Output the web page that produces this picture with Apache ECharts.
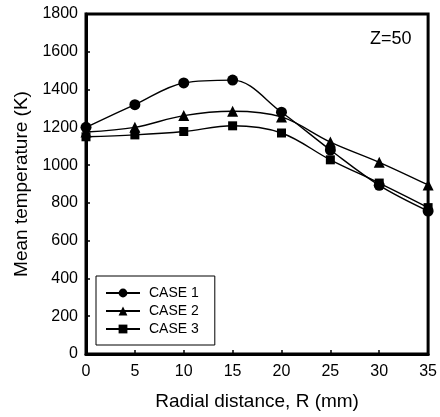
<!DOCTYPE html>
<html>
<head>
<meta charset="utf-8">
<script src="https://cdn.jsdelivr.net/npm/echarts@6/dist/echarts.min.js"></script>
<style>
  html, body { margin: 0; padding: 0; background: #fff; }
  #chart { width: 440px; height: 417px; }
</style>
</head>
<body>
<div id="chart"></div>
<script>
// radial positions (mm)
var radius = [0, 5, 10, 15, 20, 25, 30, 35];
// mean temperature (K)
var case1 = [1200, 1320, 1435, 1450, 1280, 1080, 893, 757];
var case2 = [1175, 1200, 1262, 1285, 1255, 1122, 1015, 895];
var case3 = [1150, 1160, 1178, 1208, 1170, 1028, 905, 775];

function pairs(ys) {
    return radius.map(function (x, i) { return [x, ys[i]]; });
}

var font = 'Liberation Sans, Arial, sans-serif';
var chart = echarts.init(document.getElementById('chart'));

var lineSeries = function (name, data, symbol, size) {
    return {
        name: name,
        type: 'line',
        data: pairs(data),
        smooth: 0.35,
        smoothConstraint: false,
        symbol: symbol,
        symbolSize: size,
        lineStyle: { color: '#000', width: 1.4 },
        itemStyle: { color: '#000' },
        z: 3
    };
};

chart.setOption({
    animation: false,
    textStyle: { fontFamily: font },
    grid: {
        left: 86, top: 14, right: 9, bottom: 63,
        show: true, borderColor: '#000', borderWidth: 3
    },
    legend: {
        orient: 'vertical',
        left: 96, top: 276,
        borderColor: '#000', borderWidth: 1,
        padding: [10, 16, 9, 9],
        itemGap: 4,
        itemWidth: 34, itemHeight: 11,
        textStyle: { fontSize: 14, color: '#000', fontFamily: font, padding: [0, 0, 0, 4] },
        data: ['CASE 1', 'CASE 2', 'CASE 3']
    },
    xAxis: {
        type: 'value',
        min: 0, max: 35, interval: 5,
        name: 'Radial distance, R (mm)',
        nameLocation: 'middle',
        nameGap: 38,
        nameTextStyle: { fontSize: 19, color: '#000' },
        axisLine: { lineStyle: { color: '#000', width: 3 } },
        axisTick: { inside: true, length: 4, lineStyle: { color: '#000', width: 1.5 } },
        axisLabel: { fontSize: 16, color: '#000', margin: 10, formatter: function (v) { return String(v); } },
        splitLine: { show: false }
    },
    yAxis: {
        type: 'value',
        min: 0, max: 1800, interval: 200,
        name: 'Mean temperature (K)',
        nameLocation: 'middle',
        nameGap: 53,
        nameTextStyle: { fontSize: 19, color: '#000' },
        axisLine: { show: true, lineStyle: { color: '#000', width: 3 } },
        axisTick: { show: true, inside: true, length: 4, lineStyle: { color: '#000', width: 1.5 } },
        axisLabel: { fontSize: 16, color: '#000', margin: 8, formatter: function (v) { return String(v); } },
        splitLine: { show: false }
    },
    graphic: [{
        type: 'text',
        left: 370, top: 30,
        style: { text: 'Z=50', fontSize: 18, fill: '#000', fontFamily: font }
    }],
    series: [
        lineSeries('CASE 1', case1, 'circle', 11),
        lineSeries('CASE 2', case2, 'triangle', 11),
        lineSeries('CASE 3', case3, 'rect', 9)
    ]
});
</script>
</body>
</html>
